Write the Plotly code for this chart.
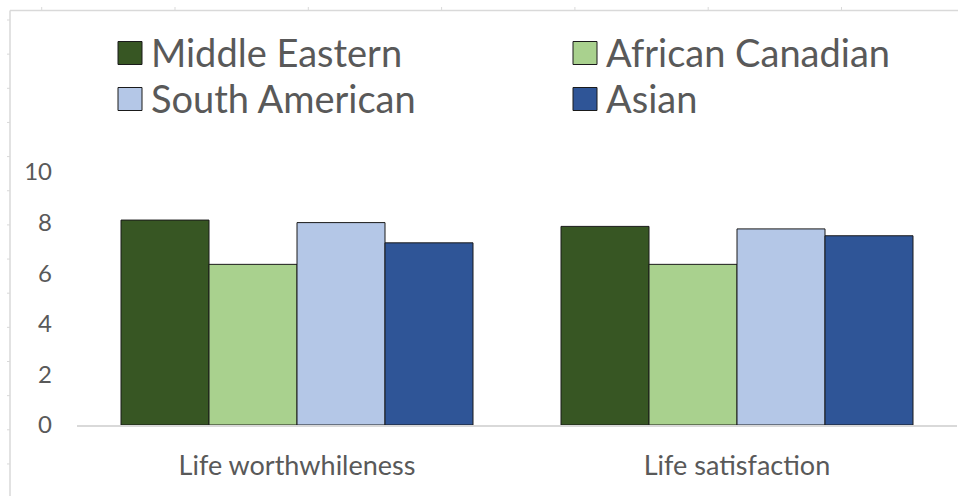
import plotly.graph_objects as go

# Data
categories = ["Life worthwhileness", "Life satisfaction"]
series_names = ["Middle Eastern", "African Canadian", "South American", "Asian"]
middle_eastern = [8.1, 7.85]
african_canadian = [6.35, 6.35]
south_american = [8.0, 7.75]
asian = [7.2, 7.48]
y_ticks = [0, 2, 4, 6, 8, 10]

values = [middle_eastern, african_canadian, south_american, asian]
colors = ["#375623", "#A9D18E", "#B4C7E7", "#2F5597"]

W_FIG, H_FIG = 958, 496
L, R, T, B = 77, 1, 172, 71
PW = W_FIG - L - R
PH = H_FIG - T - B


def px(x):
    return (x - L) / PW


def py(y):
    return (H_FIG - B - y) / PH


fig = go.Figure()
for name, vals, col in zip(series_names, values, colors):
    fig.add_trace(go.Bar(
        x=categories, y=vals, name=name,
        marker=dict(color=col, line=dict(color="#1a1a1a", width=1)),
        showlegend=False,
    ))

# Manual legend (2 columns, large swatches)
legend_pos = [(118, 53), (573, 53), (118, 99), (573, 99)]
shapes = []
annotations = []
for (lx, ly), name, col in zip(legend_pos, series_names, colors):
    shapes.append(dict(type="rect", xref="paper", yref="paper",
                       x0=px(lx), x1=px(lx + 24), y0=py(ly - 11.5), y1=py(ly + 11.5),
                       fillcolor=col, line=dict(color="#1a1a1a", width=1)))
    annotations.append(dict(xref="paper", yref="paper", x=px(lx + 31), y=py(ly - 1),
                            xanchor="left", yanchor="middle", showarrow=False,
                            text=name, font=dict(size=38, color="#595959", family="Lato")))

# Outer frame with ruler ticks
frame = "#d9d9d9"
shapes.append(dict(type="line", xref="paper", yref="paper", x0=px(10), x1=px(958),
                   y0=py(10.5), y1=py(10.5), line=dict(color=frame, width=1.5)))
shapes.append(dict(type="line", xref="paper", yref="paper", x0=px(10), x1=px(10),
                   y0=py(10.5), y1=py(496), line=dict(color=frame, width=1.5)))
tx = 41.7
while tx < 958:
    shapes.append(dict(type="line", xref="paper", yref="paper", x0=px(tx), x1=px(tx),
                       y0=py(7), y1=py(10.5), line=dict(color=frame, width=1)))
    tx += 133.3
ty = 20
while ty < 496:
    shapes.append(dict(type="line", xref="paper", yref="paper", x0=px(7), x1=px(10),
                       y0=py(ty), y1=py(ty), line=dict(color=frame, width=1)))
    ty += 34.15

fig.update_layout(
    width=W_FIG, height=H_FIG,
    margin=dict(l=L, r=R, t=T, b=B),
    plot_bgcolor="white", paper_bgcolor="white",
    barmode="group", bargap=0.2, bargroupgap=0,
    shapes=shapes, annotations=annotations,
    font=dict(family="Lato", color="#595959"),
)
fig.update_xaxes(showline=True, linecolor="#d9d9d9", linewidth=1.5, showgrid=False,
                 ticks="", tickfont=dict(size=27, color="#595959"), ticklabelstandoff=16)
fig.update_yaxes(range=[0, 10], tickvals=y_ticks, showgrid=False, zeroline=False,
                 showline=False, ticks="", tickfont=dict(size=24, color="#595959"),
                 ticklabelstandoff=24)

# remove the browser's default page margin so the figure sits at (0, 0)
fig.write_html("out.html", config={"displayModeBar": False},
               post_script="document.body.style.margin='0';")
